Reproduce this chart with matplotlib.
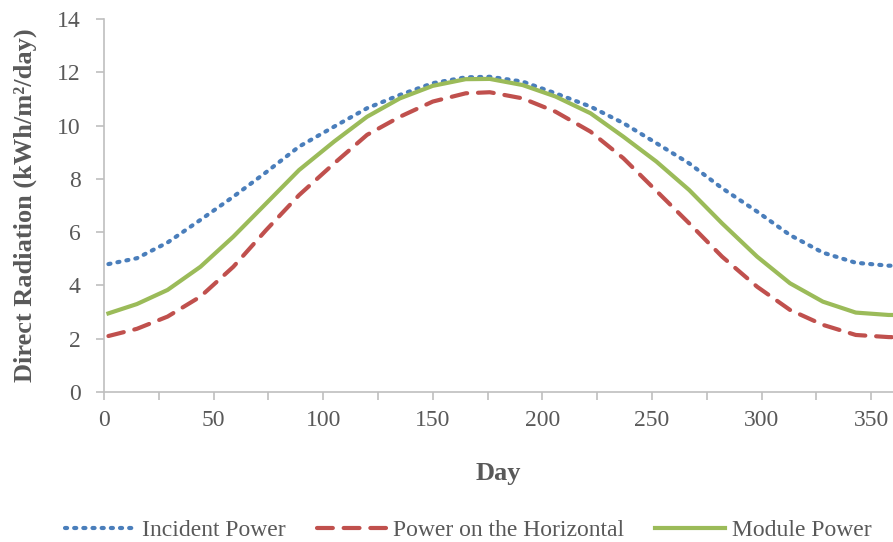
import matplotlib.pyplot as plt
from matplotlib.ticker import MultipleLocator

# values
days = [2, 15, 29, 44, 59, 74, 89, 105, 120, 135, 150, 165, 176, 191, 206,
        222, 237, 252, 267, 282, 298, 313, 328, 343, 358, 365]
incident = [4.80, 5.02, 5.61, 6.46, 7.33, 8.25, 9.21, 9.96, 10.65, 11.15, 11.59, 11.81,
            11.83, 11.65, 11.21, 10.71, 10.09, 9.34, 8.58, 7.65, 6.77, 5.89, 5.23,
            4.85, 4.74, 4.74]
horizontal = [2.10, 2.37, 2.83, 3.58, 4.70, 6.08, 7.39, 8.58, 9.65, 10.33, 10.90, 11.21,
              11.25, 11.02, 10.52, 9.77, 8.77, 7.55, 6.33, 5.08, 3.95, 3.08, 2.52,
              2.14, 2.06, 2.05]
module = [2.95, 3.30, 3.83, 4.70, 5.83, 7.08, 8.33, 9.40, 10.33, 11.02, 11.49, 11.74,
          11.75, 11.52, 11.09, 10.46, 9.58, 8.65, 7.58, 6.33, 5.08, 4.08, 3.39,
          2.98, 2.89, 2.89]

plt.rcParams['font.family'] = ['Liberation Serif', 'DejaVu Serif']

fig = plt.figure(figsize=(8.93, 5.42), dpi=100)
ax = fig.add_axes([0.1165, 0.2768, 0.8835, 0.6882])

ax.plot(days, incident, color='#4a7ebb', lw=3, ls=(0, (0.5, 1.7)),
        dash_capstyle='round', label='Incident Power')
ax.plot(days, horizontal, color='#c0504d', lw=3, ls=(0, (3.8, 2.6)),
        dash_capstyle='round', label='Power on the Horizontal')
ax.plot(days, module, color='#9bbb59', lw=3, label='Module Power')

ax.set_xlim(0, 360)
ax.set_ylim(0, 14)
ax.xaxis.set_major_locator(MultipleLocator(50))
ax.xaxis.set_minor_locator(MultipleLocator(25))
ax.yaxis.set_major_locator(MultipleLocator(2))

for s in ['top', 'right']:
    ax.spines[s].set_visible(False)
for s in ['left', 'bottom']:
    ax.spines[s].set_color('#bfbfbf')
    ax.spines[s].set_linewidth(1.2)

ax.tick_params(axis='both', which='both', colors='#bfbfbf', labelcolor='#595959',
               labelsize=17)
ax.tick_params(axis='x', which='both', length=6, width=1.2, pad=7)
ax.tick_params(axis='y', length=6, width=1.2, pad=11)

ax.set_xlabel('Day', fontsize=19, fontweight='bold', color='#595959', labelpad=22)
ax.set_ylabel('Direct Radiation (kWh/m²/day)', fontsize=19, fontweight='bold',
              color='#595959', labelpad=14)

fig.legend(loc='lower center', bbox_to_anchor=(0.5246, -0.038), ncol=3, frameon=False,
           fontsize=17, labelcolor='#595959', handlelength=2.95, columnspacing=1.3,
           handletextpad=0.3)

fig.savefig('out.png', dpi=100)
